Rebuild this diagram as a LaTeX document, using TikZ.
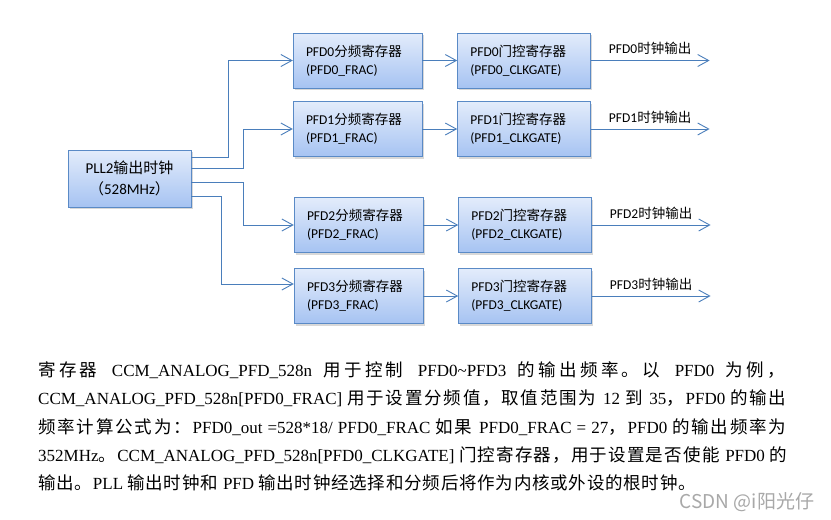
\documentclass[tikz,border=0pt]{standalone}
\usepackage{fontspec}
\setmainfont{Liberation Serif}
\newfontfamily\boxlat{Carlito}
\newfontfamily\cjk{Noto Sans CJK SC}
\newfontfamily\cjkpara{Noto Sans CJK SC}[Scale=1.03]
\usetikzlibrary{arrows.meta,positioning,shadows}
\definecolor{lineblue}{HTML}{4A7EBB}
\definecolor{boxedge}{HTML}{5A8AC6}
\definecolor{boxtop}{HTML}{E3ECFB}
\definecolor{boxbot}{HTML}{A6C3F2}
\definecolor{markgray}{HTML}{A8A8A8}
\newcommand\zhb[1]{{\cjk #1}}
\def\zhsp#1{\ifx#1\relax\else#1\hskip0.75pt plus 3pt\relax\expandafter\zhsp\fi}
\newcommand\zh[1]{{\cjkpara\zhsp#1\relax}}
\newcommand\gap{\hskip 4.25pt plus 8pt\relax}
\tikzset{
frac/.style = {draw=boxedge, top color=boxtop, bottom color=boxbot, minimum height=55pt, text width=103pt, inner xsep=13pt, align=left, drop shadow={opacity=0.3, shadow xshift=1.5pt, shadow yshift=-2pt}, font=\boxlat\fontsize{13.5}{18}\selectfont},
gate/.style = {frac, text width=107pt},
src/.style = {frac, text width=97pt, minimum height=57pt, align=center, font=\boxlat\fontsize{15}{21}\selectfont},
lab/.style = {font=\boxlat\fontsize{13.5}{16}\selectfont, inner sep=2pt},
tmp/.style = {coordinate},
output/.style = {coordinate},
link/.style = {draw=lineblue, line width=0.9pt, ->},
para/.style = {anchor=base west, inner sep=0pt, font=\fontsize{17}{20}\selectfont},
watermark/.style = {font=\cjk\fontsize{19}{22}\selectfont, text=markgray}
}
\begin{document}
\begin{tikzpicture}[x=1pt, y=-1pt, >={Straight Barb[length=11pt,width=12pt]}]
  \fill [white] (0,0) rectangle (831,520);
  \useasboundingbox (0,0) rectangle (831,520);

  \node [src]                          (pll)    at (129.5,178.5) {PLL2\zhb{输出时钟}\\\zhb{（}528MHz\zhb{）}};
  \node [frac]                         (frac0)  at (357.5,60.5)  {PFD0\zhb{分频寄存器}\\(PFD0\_FRAC)};
  \node [frac]                         (frac1)  at (357.5,129)   {PFD1\zhb{分频寄存器}\\(PFD1\_FRAC)};
  \node [frac]                         (frac2)  at (358.5,225)   {PFD2\zhb{分频寄存器}\\(PFD2\_FRAC)};
  \node [frac]                         (frac3)  at (358.5,296)   {PFD3\zhb{分频寄存器}\\(PFD3\_FRAC)};
  \node [gate, right=35pt of frac0]    (gate0)  {PFD0\zhb{门控寄存器}\\(PFD0\_CLKGATE)};
  \node [gate, right=35pt of frac1]    (gate1)  {PFD1\zhb{门控寄存器}\\(PFD1\_CLKGATE)};
  \node [gate, right=35pt of frac2]    (gate2)  {PFD2\zhb{门控寄存器}\\(PFD2\_CLKGATE)};
  \node [gate, right=35pt of frac3]    (gate3)  {PFD3\zhb{门控寄存器}\\(PFD3\_CLKGATE)};
  \node [output, right=119pt of gate0] (out0)   {};
  \node [output, right=119pt of gate1] (out1)   {};
  \node [output, right=119pt of gate2] (out2)   {};
  \node [output, right=119pt of gate3] (out3)   {};
  \node [tmp, above=21.5pt of pll.east] (tap0)  {};
  \node [tmp, above=10.5pt of pll.east] (tap1)  {};
  \node [tmp, below=3.5pt of pll.east]  (tap2)  {};
  \node [tmp, below=17.5pt of pll.east] (tap3)  {};
  \node [tmp, above=12pt of frac3.west] (in3)   {};

  \draw [link] (tap0) -- ++(37,0) |- (frac0);
  \draw [link] (tap1) -- ++(52,0) |- (frac1);
  \draw [link] (tap2) -- ++(52,0) |- (frac2);
  \draw [link] (tap3) -- ++(30,0) |- (in3);
  \draw [link] (frac0) -- (gate0);
  \draw [link] (frac1) -- (gate1);
  \draw [link] (frac2) -- (gate2);
  \draw [link] (frac3) -- (gate3);
  \draw [link] (gate0) -- node [lab, above=3pt] {PFD0\zhb{时钟输出}} (out0);
  \draw [link] (gate1) -- node [lab, above=3pt] {PFD1\zhb{时钟输出}} (out1);
  \draw [link] (gate2) -- node [lab, above=3pt] {PFD2\zhb{时钟输出}} (out2);
  \draw [link] (gate3) -- node [lab, above=3pt] {PFD3\zhb{时钟输出}} (out3);

  % text below the diagram
  \node [para] (line1) at (38,376) {\makebox[750pt][s]{\zh{寄存器}\gap CCM\_ANALOG\_PFD\_528n\gap\zh{用于控制}\gap PFD0\textasciitilde PFD3\gap\zh{的输出频率。以}\gap PFD0\gap\zh{为例，}}};
  \node [para] (line2) at (38,404) {\makebox[750pt][s]{CCM\_ANALOG\_PFD\_528n[PFD0\_FRAC] \zh{用于设置分频值，取值范围为} 12 \zh{到} 35\zh{，}PFD0 \zh{的输出}}};
  \node [para] (line3) at (38,433) {\makebox[750pt][s]{\zh{频率计算公式为：}PFD0\_out =528*18/ PFD0\_FRAC \zh{如果} PFD0\_FRAC = 27\zh{，}PFD0 \zh{的输出频率为}}};
  \node [para] (line4) at (38,461) {\makebox[750pt][s]{352MHz\zh{。}CCM\_ANALOG\_PFD\_528n[PFD0\_CLKGATE] \zh{门控寄存器，用于设置是否使能} PFD0 \zh{的}}};
  \node [para] (line5) at (38,489) {\zh{输出。}PLL \zh{输出时钟和} PFD \zh{输出时钟经选择和分频后将作为内核或外设的根时钟。}};
  \node [watermark] (wm) at (747,502) {CSDN @i阳光仔};
\end{tikzpicture}
\end{document}
